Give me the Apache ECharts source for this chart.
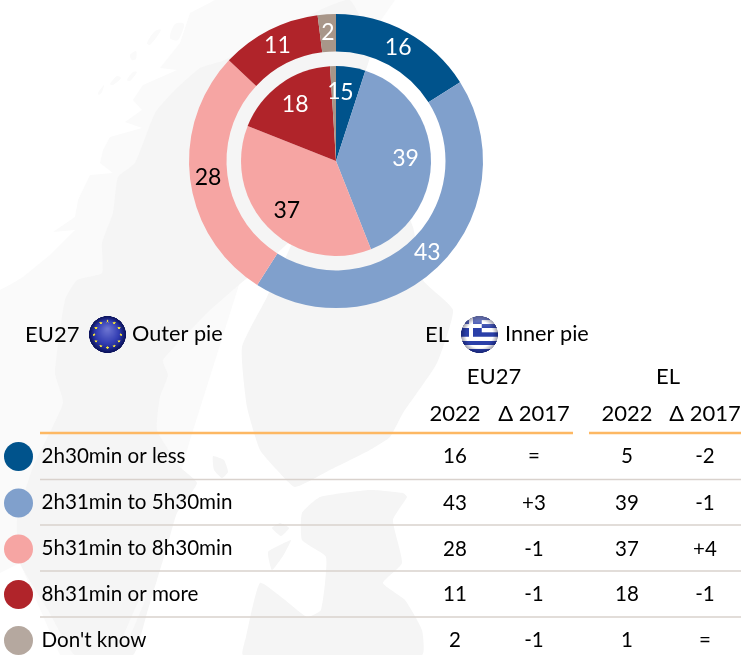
<!DOCTYPE html>
<html>
<head>
<meta charset="utf-8">
<style>html,body{margin:0;padding:0;background:#fff}#c{width:741px;height:655px}</style>
<script src="https://cdn.jsdelivr.net/npm/echarts@6/dist/echarts.min.js"></script>
</head>
<body>
<div id="c"></div>
<script>
const categories = ["2h30min or less", "2h31min to 5h30min", "5h31min to 8h30min", "8h31min or more", "Don't know"];
const eu2022 = [16, 43, 28, 11, 2];
const euDelta = ["=", "+3", "-1", "-1", "-1"];
const el2022 = [5, 39, 37, 18, 1];
const elDelta = ["-2", "-1", "+4", "-1", "="];
const colors = ["#00538c", "#80a0cc", "#f6a5a3", "#b0242a", "#a89689"];
const legendColors = ["#00538c", "#80a0cc", "#f6a5a3", "#b0242a", "#b5a89f"];
const labelColors = ["#fff", "#fff", "#000", "#fff", "#fff"];
const FONT = "Lato, 'Noto Sans', sans-serif";

const chart = echarts.init(document.getElementById('c'), null, {width: 741, height: 655});
const pieCenter = [336, 161];

function slices(values, withLabel) {
  return values.map((v, i) => ({
    name: categories[i], value: v,
    itemStyle: {color: withLabel ? 'rgba(0,0,0,0)' : colors[i]},
    label: {color: labelColors[i]}
  }));
}
function pie(values, radius, withLabel, z) {
  return {
    type: 'pie', center: pieCenter, radius, startAngle: 90, clockwise: true,
    silent: true, animation: false, avoidLabelOverlap: false, z,
    label: withLabel
      ? {show: true, position: 'inside', formatter: '{c}', fontFamily: FONT, fontSize: 23, padding: [9, 0, 0, 0]}
      : {show: false},
    labelLine: {show: false},
    labelLayout: {hideOverlap: false},
    emphasis: {disabled: true},
    data: slices(values, withLabel)
  };
}

/* ---------- pale map backdrop ---------- */
const LIGHT = '#fafafa', MID = '#f5f5f5';
const shapes = [
  {fill: LIGHT, smooth: 0, pts: [[190,13],[215,0],[395,0],[360,50],[250,250],[190,440],[130,655],[60,655],[20,563],[0,573],[0,290],[13,283],[23,277],[50,255],[45,247],[50,255],[75,230],[53,232],[75,217],[78,200],[90,175],[113,173],[100,163],[103,150],[110,137],[142,128],[125,122],[142,110],[133,100],[143,85],[177,70],[160,68],[180,43]]},
  {fill: MID, smooth: 0.15, pts: [[200,68],[225,60],[320,10],[350,0],[372,50],[300,230],[233,290],[207,313],[163,360],[168,375],[160,397],[157,430],[180,467],[197,483],[177,513],[167,547],[157,580],[147,613],[133,655],[75,655],[48,610],[20,563],[17,520],[33,467],[63,403],[55,373],[65,300],[77,280],[102,273],[102,243],[113,213],[118,177],[135,163],[155,113],[173,92]]},
  {fill: MID, smooth: 0.15, pts: [[300,225],[355,55],[372,120],[413,227],[423,280],[453,310],[437,363],[403,413],[390,437],[370,450],[330,470],[295,487],[277,470],[260,450],[247,407],[242,347],[267,297]]},
  {fill: MID, smooth: 0.15, pts: [[302,513],[320,497],[370,490],[403,493],[407,497],[393,520],[402,563],[383,583],[405,600],[422,630],[422,655],[243,655],[246,637],[260,583],[285,600],[307,617],[321,610],[326,557],[302,540]]},
  {fill: MID, smooth: 0.15, pts: [[213,456],[224,460],[228,472],[222,478],[214,470]]},
  {fill: MID, smooth: 0.15, pts: [[272,528],[280,523],[289,528],[281,536]]},
  {fill: MID, smooth: 0.15, pts: [[268,552],[280,545],[291,540],[283,556],[272,570]]},
  {fill: LIGHT, smooth: 0.15, pts: [[145,590],[139,600],[122,640],[128,640],[145,600]]},
  {fill: LIGHT, smooth: 0.3, pts: [[98,93],[104,85],[102,92],[99,95]]},
  {fill: LIGHT, smooth: 0.3, pts: [[110,84],[117,76],[121,78],[113,85]]},
  {fill: LIGHT, smooth: 0.3, pts: [[127,80],[133,72],[137,72],[130,81]]},
  {fill: LIGHT, smooth: 0.3, pts: [[130,55],[136,51],[136,59],[132,60]]},
  {fill: LIGHT, smooth: 0.3, pts: [[147,43],[155,31],[161,30],[150,45]]},
  {fill: LIGHT, smooth: 0.3, pts: [[170,38],[175,24],[184,24],[178,40]]}
];
const graphics = shapes.map(s => ({type: 'polygon', silent: true, z: -10,
  shape: {points: s.pts, smooth: s.smooth}, style: {fill: s.fill}}));

/* ---------- flags ---------- */
function shade(ctx, r) {
  let g = ctx.createRadialGradient(r, r, r * 0.72, r, r, r);
  g.addColorStop(0, 'rgba(0,0,40,0)');
  g.addColorStop(1, 'rgba(0,0,40,0.38)');
  ctx.fillStyle = g; ctx.fillRect(0, 0, 2 * r, 2 * r);
}
function flagCanvas(kind, r) {
  const S = 4, c = document.createElement('canvas');
  c.width = c.height = 2 * r * S;
  const ctx = c.getContext('2d');
  ctx.scale(S, S);
  ctx.beginPath(); ctx.arc(r, r, r, 0, Math.PI * 2); ctx.clip();
  if (kind === 'eu') {
    let g = ctx.createRadialGradient(r, r * 0.7, 1, r, r, r * 1.05);
    g.addColorStop(0, '#6a72d0'); g.addColorStop(0.55, '#343fb4'); g.addColorStop(1, '#0d1870');
    ctx.fillStyle = g; ctx.fillRect(0, 0, 2 * r, 2 * r);
    ctx.fillStyle = '#f5e33a';
    for (let i = 0; i < 12; i++) {
      const a = i * Math.PI / 6, x = r + r * 0.72 * Math.cos(a), y = r + r * 0.72 * Math.sin(a);
      ctx.beginPath();
      for (let k = 0; k < 10; k++) {
        const q = k % 2 ? 0.75 : 1.8, b = -Math.PI / 2 + k * Math.PI / 5;
        ctx.lineTo(x + q * Math.cos(b), y + q * Math.sin(b));
      }
      ctx.fill();
    }
  } else {
    const h = 2 * r / 9, blue = '#2a3fa8';
    ctx.fillStyle = '#fff'; ctx.fillRect(0, 0, 2 * r, 2 * r);
    ctx.fillStyle = blue;
    for (let i = 0; i < 9; i += 2) ctx.fillRect(0, i * h, 2 * r, h);
    ctx.fillRect(0, 0, 5 * h, 5 * h);
    ctx.fillStyle = '#fff';
    ctx.fillRect(2 * h, 0, h, 5 * h); ctx.fillRect(0, 2 * h, 5 * h, h);
    let g = ctx.createLinearGradient(0, 0, 0, r * 0.7);
    g.addColorStop(0, 'rgba(255,255,255,0.45)'); g.addColorStop(1, 'rgba(255,255,255,0)');
    ctx.fillStyle = g; ctx.fillRect(0, 0, 2 * r, r);
  }
  shade(ctx, r);
  return c;
}
graphics.push({type: 'image', silent: true, z: 5, style: {image: flagCanvas('eu', 18), x: 89, y: 316, width: 37, height: 37}});
graphics.push({type: 'image', silent: true, z: 5, style: {image: flagCanvas('gr', 18), x: 461, y: 316, width: 37, height: 37}});

/* ---------- text and table ---------- */
function txt(text, x, y, align, size) {
  return {type: 'text', silent: true, z: 6,
    style: {text: String(text), x, y, fill: '#000', textAlign: align || 'center', textVerticalAlign: 'middle',
      fontFamily: FONT, fontSize: size || 21}};
}
function rule(x1, x2, y, color, w) {
  return {type: 'line', silent: true, z: 4, shape: {x1, y1: y, x2, y2: y}, style: {stroke: color, lineWidth: w}};
}
graphics.push(txt('(%)', 20, -11, 'left', 20));
graphics.push(txt('EU27', 25, 335, 'left', 22), txt('Outer pie', 132, 334, 'left', 21.7));
graphics.push(txt('EL', 425, 335, 'left', 22), txt('Inner pie', 505, 334, 'left', 21.7));
graphics.push(txt('EU27', 494, 377, 'center', 22), txt('EL', 668, 377, 'center', 22));
const colX = [455, 534, 627, 705];
['2022', 'Δ 2017', '2022', 'Δ 2017'].forEach((t, i) => graphics.push(txt(t, colX[i], 414, 'center', 22)));
graphics.push(rule(40, 573, 433, '#fdb863', 2.5), rule(589, 741, 433, '#fdb863', 2.5));
const rowY = [456.5, 503, 549, 594.5, 640.5];
const lineY = [479.5, 525, 571, 617];
lineY.forEach(y => graphics.push(rule(40, 741, y, '#d9d2cd', 1.3)));
categories.forEach((name, i) => {
  const y = rowY[i];
  graphics.push({type: 'circle', silent: true, z: 5, shape: {cx: 18.5, cy: y, r: 14.5}, style: {fill: legendColors[i]}});
  graphics.push(txt(name, 41.5, y - 0.5, 'left', 20.6));
  [eu2022[i], euDelta[i], el2022[i], elDelta[i]].forEach((v, k) => graphics.push(txt(v, colX[k], y, 'center', 20.5)));
});

chart.setOption({
  animation: false,
  backgroundColor: '#fff',
  graphic: {elements: graphics},
  series: [
    pie(eu2022, [109.5, 147], false, 2),
    pie(el2022, [0, 95], false, 2),
    pie(eu2022, [105, 147], true, 3),
    pie(el2022, [38, 95], true, 3)
  ]
});
</script>
</body>
</html>
